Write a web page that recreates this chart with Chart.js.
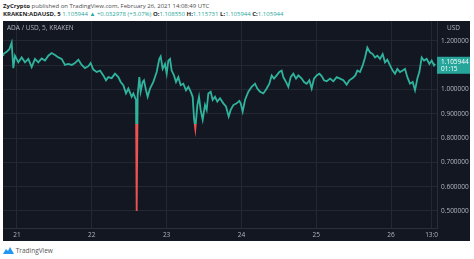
<!DOCTYPE html>
<html>
<head>
<meta charset="utf-8">
<script src="https://cdn.jsdelivr.net/npm/chart.js@4/dist/chart.umd.min.js"></script>
<style>
  body { margin: 0; width: 474px; height: 259px; background: #fff; position: relative; overflow: hidden; font-family: "Open Sans", sans-serif; }
  .hdr { position: absolute; left: 3px; font-size: 6px; color: #4a4a4a; white-space: nowrap; }
  .hdr b { color: #222; }
  .up { color: #26a69a; }
  #wrap { position: absolute; left: 3px; top: 21px; width: 467px; height: 220px; }
  .foot { position: absolute; left: 3px; top: 246px; font-size: 6.5px; color: #555; display: flex; align-items: center; }
</style>
</head>
<body>
<div class="hdr" style="top:2px"><b>ZyCrypto</b> published on TradingView.com, February 26, 2021 14:08:49 UTC</div>
<div class="hdr" style="top:10px"><b>KRAKEN:ADAUSD, 5</b> <span class="up">1.105944 &#9650; +0.032978 (+3.07%)</span> <b>O:</b><span class="up">1.108550</span> <b>H:</b><span class="up">1.115731</span> <b>L:</b><span class="up">1.105944</span> <b>C:</b><span class="up">1.105944</span></div>
<div id="wrap"><canvas id="chart" width="467" height="220"></canvas></div>
<div class="foot"><svg width="11" height="7" viewBox="0 0 11 7"><path d="M0 7 L3 2 L5 4 L7 0 L11 7 Z" fill="#2196f3"/></svg>&nbsp;TradingView</div>
<script>
// hours since Feb 21 00:00 UTC, ADA/USD close
const hours = [-4.49,-4.38,-3.32,-2.46,-1.71,-1.18,-0.64,0.43,1.50,2.57,3.64,4.71,5.77,6.84,7.91,8.98,10.05,11.12,12.19,13.26,14.33,15.40,16.47,17.54,18.61,19.68,20.75,21.82,22.89,23.63,24.49,25.56,26.63,27.70,28.55,29.30,30.37,31.44,32.51,33.26,34.11,34.97,35.72,36.79,37.32,38.18,38.39,38.71,39.25,39.67,40.32,40.74,41.39,41.92,42.67,43.74,44.81,45.66,46.09,46.73,47.48,48.02,48.55,49.09,49.62,50.37,51.01,51.76,52.51,53.36,54.22,54.97,55.72,56.36,56.79,57.21,57.86,58.39,58.92,59.57,60.31,60.85,61.38,62.13,62.77,63.52,64.27,65.13,66.20,67.05,67.91,68.55,69.40,70.47,71.33,71.76,72.40,73.15,74.22,75.29,76.36,77.10,77.96,79.03,80.10,80.95,81.70,82.45,83.31,84.16,84.91,85.45,86.30,87.05,87.80,88.65,89.51,90.26,91.33,92.08,92.93,93.79,94.54,95.28,96.14,97.00,97.74,98.49,99.35,100.42,101.49,102.56,103.63,104.69,105.76,106.62,107.69,108.54,109.19,110.04,110.90,111.65,112.39,113.25,114.11,114.85,115.60,116.46,117.31,118.06,118.81,119.67,120.52,121.27,122.02,122.87,123.73,124.48,125.23,126.08,126.94,127.69,128.44,129.08,129.83,130.57,131.43,132.29,133.03,133.78,134.13];
const prices = [1.142,1.146,1.155,1.166,1.193,1.088,1.139,1.112,1.132,1.112,1.126,1.092,1.126,1.112,1.128,1.119,1.139,1.150,1.142,1.132,1.126,1.101,1.105,1.101,1.109,1.123,1.101,1.088,1.096,1.109,1.082,1.072,1.078,1.058,1.038,1.051,1.047,1.065,1.051,1.031,1.018,0.984,1.004,0.970,0.984,0.957,0.500,0.977,1.051,0.991,1.031,1.038,0.997,0.970,1.004,1.031,1.072,1.126,1.136,1.085,1.105,1.065,1.119,1.126,1.078,1.058,1.031,1.051,1.018,1.024,0.997,1.011,0.991,0.970,0.882,0.838,0.936,0.970,0.916,0.876,0.936,0.916,0.984,0.991,0.957,0.970,0.950,0.964,0.943,0.930,0.889,0.916,0.936,0.943,0.953,0.943,0.909,0.957,0.991,1.011,1.024,1.004,0.991,0.984,1.004,1.024,1.058,1.045,1.058,1.072,1.078,1.051,1.031,1.011,1.051,1.065,1.045,1.058,1.045,1.031,1.024,1.038,1.004,1.045,1.058,1.065,1.055,1.038,1.034,1.045,1.034,1.051,1.045,1.038,1.020,1.038,1.047,1.058,1.078,1.072,1.099,1.132,1.173,1.153,1.146,1.132,1.139,1.126,1.146,1.112,1.123,1.099,1.078,1.065,1.085,1.072,1.078,1.085,1.051,1.024,1.031,0.997,1.045,1.072,1.132,1.119,1.126,1.105,1.119,1.099,1.106];
const dayTicks = [0, 24, 48, 72, 96, 120, 133];
const dayLabels = ['21', '22', '23', '24', '25', '26', '13:0'];
const priceTicks = [0.5, 0.6, 0.7, 0.8, 0.9, 1.0, 1.1, 1.2];
const lastPrice = 1.105944;
const lastTime = '01:15';
const redBelow = 0.857;

const BG = '#131722';
const GRID = '#242833';
const TEXT = '#b2b5be';
const TEAL = '#2fb39d';
const RED = '#ef5350';

const panel = {
  id: 'panel',
  beforeDraw(chart) {
    const c = chart.ctx;
    c.save();
    c.fillStyle = BG;
    c.fillRect(0, 0, chart.width, chart.height);
    c.restore();
  },
  afterDraw(chart) {
    const c = chart.ctx;
    const a = chart.chartArea;
    const y = chart.scales.y.getPixelForValue(lastPrice);
    c.save();
    c.fillStyle = TEXT;
    c.font = '6.5px "Open Sans"';
    c.textBaseline = 'middle';
    c.fillText('ADA / USD, 5, KRAKEN', 4, 7);
    c.textAlign = 'center';
    c.fillText('USD', (a.right + chart.width) / 2, 7);
    c.fillStyle = '#26a69a';
    c.fillRect(a.right, y - 7, chart.width - a.right, 17);
    c.fillStyle = '#ffffff';
    c.textAlign = 'left';
    c.fillText(lastPrice.toFixed(6), a.right + 4, y - 1.5);
    c.fillText(lastTime, a.right + 4, y + 5);
    c.restore();
  }
};

function lineColor(ctx) {
  const chart = ctx.chart;
  const a = chart.chartArea;
  if (!a) return TEAL;
  const py = chart.scales.y.getPixelForValue(redBelow);
  const t = Math.min(1, Math.max(0, (py - a.top) / (a.bottom - a.top)));
  const g = chart.ctx.createLinearGradient(0, a.top, 0, a.bottom);
  g.addColorStop(0, TEAL);
  g.addColorStop(t, TEAL);
  g.addColorStop(t, RED);
  g.addColorStop(1, RED);
  return g;
}

new Chart(document.getElementById('chart'), {
  type: 'line',
  data: {
    datasets: [{
      data: hours.map((h, i) => ({ x: h, y: prices[i] })),
      borderColor: lineColor,
      borderWidth: 1.8,
      pointRadius: 0,
      tension: 0
    }]
  },
  options: {
    responsive: false,
    animation: false,
    layout: { padding: 0 },
    plugins: { legend: { display: false }, tooltip: { enabled: false } },
    scales: {
      x: {
        type: 'linear',
        min: -4.49,
        max: 134.74,
        afterBuildTicks(s) { s.ticks = dayTicks.map(v => ({ value: v })); },
        afterFit(s) { s.height = 13; s.paddingLeft = 0; s.paddingRight = 0; },
        ticks: {
          color: TEXT,
          font: { family: 'Open Sans', size: 6.5 },
          padding: 3,
          maxRotation: 0,
          autoSkip: false,
          callback: (v, i) => dayLabels[i]
        },
        grid: { color: GRID, drawTicks: false },
        border: { color: '#2a2e39' }
      },
      y: {
        position: 'right',
        min: 0.43,
        max: 1.282,
        afterBuildTicks(s) { s.ticks = priceTicks.map(v => ({ value: v })); },
        afterFit(s) { s.width = 33; s.paddingTop = 0; s.paddingBottom = 0; },
        ticks: {
          color: TEXT,
          font: { family: 'Open Sans', size: 6.5 },
          padding: 4,
          callback: v => Math.abs(v - 1.1) < 1e-6 ? '' : v.toFixed(6)
        },
        grid: { color: GRID, drawTicks: false },
        border: { color: '#2a2e39' }
      }
    }
  },
  plugins: [panel]
});
</script>
</body>
</html>
